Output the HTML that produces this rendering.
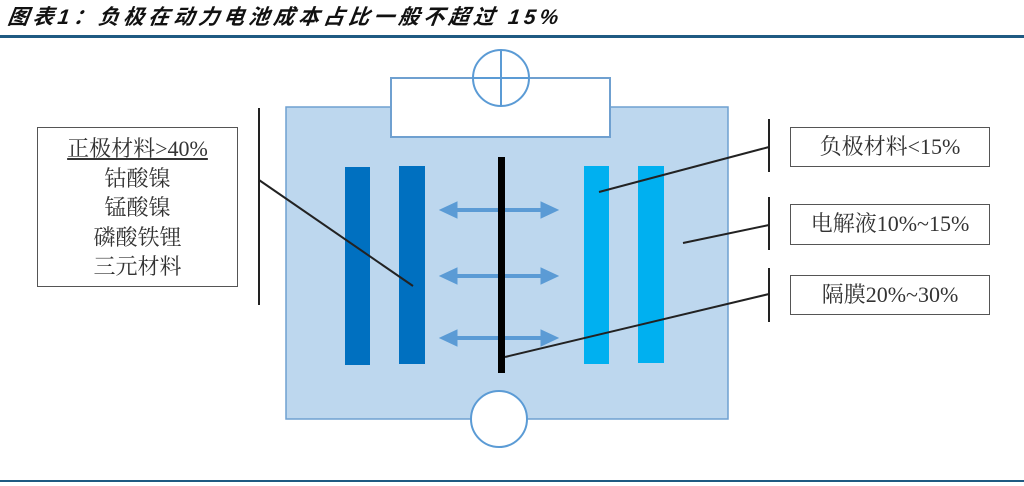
<!DOCTYPE html>
<html><head><meta charset="utf-8"><style>
body{margin:0;background:#fff;width:1024px;height:486px;overflow:hidden;position:relative;font-family:"Liberation Serif","Noto Serif CJK SC",serif;}
.t{position:absolute;left:8px;top:1px;font-family:"Liberation Sans","Noto Sans CJK SC",sans-serif;font-style:italic;font-weight:bold;font-size:21px;letter-spacing:4px;color:#111;transform:skewX(-8deg);white-space:nowrap;}
.box{position:absolute;border:1.5px solid #555;box-sizing:border-box;background:#fff;color:#333;font-size:22px;text-align:center;white-space:nowrap;}
</style></head><body>
<div class="t">图表1：负极在动力电池成本占比一般不超过 15%</div>
<div style="position:absolute;left:0;top:35px;width:1024px;height:3px;background:#1f5a82"></div>
<div style="position:absolute;left:0;top:480px;width:1024px;height:2px;background:#1f5a82"></div>
<svg width="1024" height="486" style="position:absolute;left:0;top:0">
<rect x="286" y="107" width="442" height="312" fill="#bdd7ee" stroke="#6fa0d0" stroke-width="1.5"/>
<rect x="391" y="78" width="219" height="59" fill="#fff" stroke="#6fa0d0" stroke-width="2"/>
<circle cx="501" cy="78" r="28" fill="#fff" stroke="#5b9bd5" stroke-width="2"/>
<line x1="501" y1="50" x2="501" y2="106" stroke="#5b9bd5" stroke-width="2"/>
<line x1="473" y1="78" x2="529" y2="78" stroke="#5b9bd5" stroke-width="2"/>
<circle cx="499" cy="419" r="28" fill="#fff" stroke="#5b9bd5" stroke-width="2"/>
<rect x="345" y="167" width="25" height="198" fill="#0070c0"/>
<rect x="399" y="166" width="26" height="198" fill="#0070c0"/>
<rect x="584" y="166" width="25" height="198" fill="#00b0f0"/>
<rect x="638" y="166" width="26" height="197" fill="#00b0f0"/>
<g fill="#5b9bd5" stroke="#5b9bd5">
<line x1="452" y1="210" x2="546" y2="210" stroke-width="4"/><polygon points="440,210 457,202 457,218"/><polygon points="558,210 541,202 541,218"/>
<line x1="452" y1="276" x2="546" y2="276" stroke-width="4"/><polygon points="440,276 457,268 457,284"/><polygon points="558,276 541,268 541,284"/>
<line x1="452" y1="338" x2="546" y2="338" stroke-width="4"/><polygon points="440,338 457,330 457,346"/><polygon points="558,338 541,330 541,346"/>
</g>
<rect x="498" y="157" width="7" height="216" fill="#000"/>
<g stroke="#222" stroke-width="2">
<line x1="259" y1="108" x2="259" y2="305"/>
<line x1="259" y1="180" x2="413" y2="286"/>
<line x1="769" y1="119" x2="769" y2="172"/>
<line x1="769" y1="197" x2="769" y2="250"/>
<line x1="769" y1="268" x2="769" y2="322"/>
<line x1="599" y1="192" x2="769" y2="147"/>
<line x1="683" y1="243" x2="769" y2="225"/>
<line x1="505" y1="357" x2="769" y2="294"/>
</g>
</svg>
<div class="box" style="left:37px;top:127px;width:201px;height:160px;line-height:29.5px;padding-top:6px">
<span style="text-decoration:underline">正极材料&gt;40%</span><br>钴酸镍<br>锰酸镍<br>磷酸铁锂<br>三元材料</div>
<div class="box" style="left:790px;top:127px;width:200px;height:40px;line-height:37px">负极材料&lt;15%</div>
<div class="box" style="left:790px;top:204px;width:200px;height:41px;line-height:38px">电解液10%~15%</div>
<div class="box" style="left:790px;top:275px;width:200px;height:40px;line-height:37px">隔膜20%~30%</div>
</body></html>
